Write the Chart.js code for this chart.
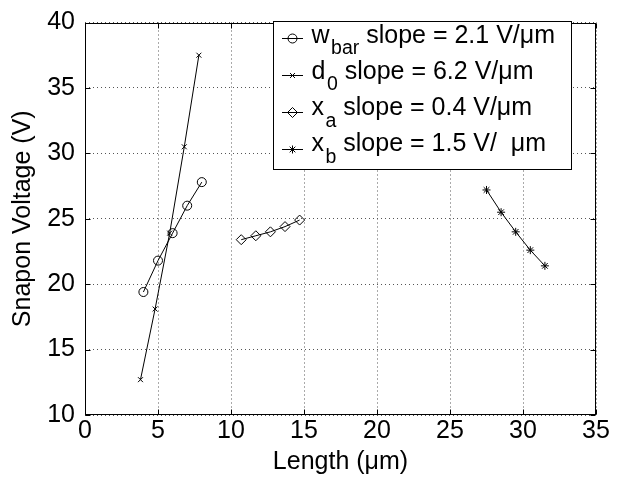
<!DOCTYPE html>
<html><head><meta charset="utf-8">
<script src="https://cdn.jsdelivr.net/npm/chart.js@4/dist/chart.umd.min.js"></script>
<style>html,body{margin:0;padding:0;background:#fff}#wrap{width:624px;height:480px}</style>
</head><body><div id="wrap"><canvas id="c" width="624" height="480"></canvas></div>
<script>
// ---- data ----
const wbarX = [4.0, 5.0, 6.0, 7.0, 8.0];
const wbarY = [19.4, 21.8, 23.9, 26.0, 27.8];
const d0X = [3.8, 4.8, 5.8, 6.8, 7.8];
const d0Y = [12.7, 18.1, 23.9, 30.5, 37.5];
const xaX = [10.7, 11.7, 12.7, 13.7, 14.7];
const xaY = [23.4, 23.7, 24.0, 24.4, 24.9];
const xbX = [27.5, 28.5, 29.5, 30.5, 31.5];
const xbY = [27.2, 25.5, 24.0, 22.6, 21.4];
const xTicks = [0, 5, 10, 15, 20, 25, 30, 35];
const yTicks = [10, 15, 20, 25, 30, 35, 40];
const legendMain = ['w', 'd', 'x', 'x'];
const legendSub = ['bar', '0', 'a', 'b'];
const legendRest = [' slope = 2.1 V/\u03bcm', ' slope = 6.2 V/\u03bcm', ' slope = 0.4 V/\u03bcm', ' slope = 1.5 V/  \u03bcm'];
const xTitle = 'Length (\u03bcm)';
const yTitle = 'Snapon Voltage (V)';

const FONT = '"Liberation Sans", Arial, Helvetica, sans-serif';
const toPts = (xs, ys) => xs.map((x, i) => ({x: x, y: ys[i]}));

function mkSet(xs, ys, style, r) {
  return {
    data: toPts(xs, ys), showLine: true, tension: 0,
    borderColor: '#000', borderWidth: 1,
    pointStyle: style, pointRadius: r, pointHoverRadius: r,
    pointBorderColor: '#000', pointBackgroundColor: 'rgba(0,0,0,0)', pointBorderWidth: 1
  };
}

const boxPlugin = {
  id: 'mbox',
  afterDatasetsDraw(chart) {
    const ctx = chart.ctx, a = chart.chartArea;
    const xs = chart.scales.x, ys = chart.scales.y;
    ctx.save();
    ctx.strokeStyle = '#000'; ctx.lineWidth = 1;
    const L = Math.round(a.left) + 0.5, R = Math.round(a.right) - 0.5;
    const T = Math.round(a.top) + 0.5, B = Math.round(a.bottom) - 0.5;
    ctx.strokeRect(L, T, R - L, B - T);
    ctx.beginPath();
    xTicks.forEach(v => {
      const p = Math.round(xs.getPixelForValue(v)) + 0.5;
      ctx.moveTo(p, B); ctx.lineTo(p, B - 5);
      ctx.moveTo(p, T); ctx.lineTo(p, T + 5);
    });
    yTicks.forEach(v => {
      const p = Math.round(ys.getPixelForValue(v)) + 0.5;
      ctx.moveTo(L, p); ctx.lineTo(L + 5, p);
      ctx.moveTo(R, p); ctx.lineTo(R - 5, p);
    });
    ctx.stroke();
    ctx.restore();
  }
};

const legendPlugin = {
  id: 'mlegend',
  afterDraw(chart) {
    const ctx = chart.ctx;
    ctx.save();
    const bx = 273.5, by = 21.5, bw = 298, bh = 148;
    ctx.fillStyle = '#fff'; ctx.fillRect(bx, by, bw, bh);
    ctx.strokeStyle = '#000'; ctx.lineWidth = 1; ctx.strokeRect(bx, by, bw, bh);
    chart.data.datasets.forEach((ds, i) => {
      const ly = Math.round(38 + i * 37) + 0.5;
      ctx.strokeStyle = '#000'; ctx.lineWidth = 1;
      ctx.beginPath(); ctx.moveTo(282, ly); ctx.lineTo(303, ly); ctx.stroke();
      ctx.fillStyle = 'rgba(0,0,0,0)';
      Chart.helpers.drawPoint(ctx, {pointStyle: ds.pointStyle, radius: ds.pointRadius, borderWidth: 1, rotation: 0}, 292.5, ly);
      const base = 42.5 + i * 36.3;
      let x = 311.5;
      ctx.fillStyle = '#000'; ctx.textAlign = 'left'; ctx.textBaseline = 'alphabetic';
      ctx.font = '25px ' + FONT;
      ctx.fillText(legendMain[i], x, base);
      x += ctx.measureText(legendMain[i]).width + 1.5;
      ctx.font = '19.5px ' + FONT;
      ctx.fillText(legendSub[i], x, base + 11.5);
      x += ctx.measureText(legendSub[i]).width;
      ctx.font = '25px ' + FONT;
      ctx.fillText(legendRest[i], x, base);
    });
    ctx.restore();
  }
};

new Chart(document.getElementById('c'), {
  type: 'scatter',
  data: {
    datasets: [
      mkSet(wbarX, wbarY, 'circle', 4.5),
      mkSet(d0X, d0Y, 'crossRot', 3.5),
      mkSet(xaX, xaY, 'rectRot', 5),
      mkSet(xbX, xbY, 'star', 4)
    ]
  },
  options: {
    responsive: false, animation: false, devicePixelRatio: 1,
    layout: {padding: {left: 0, right: 28, top: 13, bottom: 0}},
    plugins: {legend: {display: false}, tooltip: {enabled: false}},
    scales: {
      x: {
        type: 'linear', min: 0, max: 35,
        afterBuildTicks: s => { s.ticks = xTicks.map(v => ({value: v})); },
        afterFit: s => { s.height = 65; },
        grid: {color: '#555', lineWidth: 1, drawTicks: false},
        border: {display: false, dash: [1, 3]},
        ticks: {color: '#000', padding: 4, maxRotation: 0, font: {family: FONT, size: 25, lineHeight: 1}},
        title: {display: true, text: xTitle, color: '#000', padding: {top: 0, bottom: 3}, font: {family: FONT, size: 25, lineHeight: 1.2}}
      },
      y: {
        type: 'linear', min: 10, max: 40,
        afterBuildTicks: s => { s.ticks = yTicks.map(v => ({value: v})); },
        afterFit: s => { s.width = 85; },
        grid: {color: '#555', lineWidth: 1, drawTicks: false},
        border: {display: false, dash: [1, 3]},
        ticks: {color: '#000', padding: 10, font: {family: FONT, size: 25, lineHeight: 1}},
        title: {display: true, text: yTitle, color: '#000', padding: {top: 8, bottom: 0}, font: {family: FONT, size: 25, lineHeight: 1.2}}
      }
    }
  },
  plugins: [boxPlugin, legendPlugin]
});
</script></body></html>
